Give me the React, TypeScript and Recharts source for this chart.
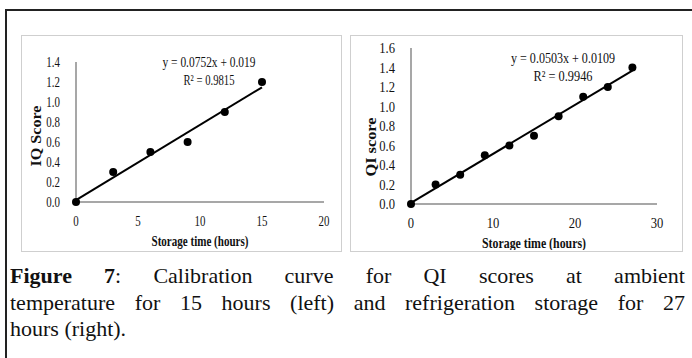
import { ScatterChart, Scatter, XAxis, YAxis } from "recharts";

// ambient (left) panel
const ambientHours = [0, 3, 6, 9, 12, 15];
const ambientScore = [0, 0.3, 0.5, 0.6, 0.9, 1.2];
const ambientTrendX = [0, 15];
const ambientTrendY = [0.019, 1.147];
const ambientXTicks = [0, 5, 10, 15, 20];
const ambientYTicks = [0, 0.2, 0.4, 0.6, 0.8, 1.0, 1.2, 1.4];

// refrigeration (right) panel
const fridgeHours = [0, 3, 6, 9, 12, 15, 18, 21, 24, 27];
const fridgeScore = [0, 0.2, 0.3, 0.5, 0.6, 0.7, 0.9, 1.1, 1.2, 1.4];
const fridgeTrendX = [0, 27];
const fridgeTrendY = [0.0109, 1.369];
const fridgeXTicks = [0, 10, 20, 30];
const fridgeYTicks = [0, 0.2, 0.4, 0.6, 0.8, 1.0, 1.2, 1.4, 1.6];

const font = "'Liberation Serif', 'Times New Roman', serif";

const toPoints = (xs: number[], ys: number[]) => xs.map((x, i) => ({ x, y: ys[i] }));

const dot = (p: any) => <circle cx={p.cx} cy={p.cy} r={4} fill="#000" />;
const noDot = () => <g />;

// narrow serif tick, the source figure uses a condensed face
const tick = (sx: number, axis: "x" | "y") => (p: any) => {
  const label = axis === "y" ? Number(p.payload.value).toFixed(1) : String(p.payload.value);
  return (
    <g transform={`translate(${p.x}, ${p.y}) scale(${sx}, 1)`}>
      <text x={0} y={0} textAnchor={axis === "y" ? "end" : "middle"} dy={axis === "y" ? 5 : 12}
        fontFamily={font} fontSize={14} fill="#111">{label}</text>
    </g>
  );
};

const yTitle = (text: string, len: number, dx: number, dy: number) => (p: any) => {
  const vb = p.viewBox;
  const x = vb.x + vb.width - dx;
  const y = vb.y + vb.height / 2 + dy;
  return (
    <text x={x} y={y} transform={`rotate(-90, ${x}, ${y})`} textAnchor="middle" dominantBaseline="central"
      textLength={len} lengthAdjust="spacingAndGlyphs"
      fontFamily={font} fontWeight="bold" fontSize={14} fill="#111">{text}</text>
  );
};

const xTitle = (text: string, len: number, dy: number) => (p: any) => {
  const vb = p.viewBox;
  return (
    <text x={vb.x + vb.width / 2} y={vb.y + dy} textAnchor="middle" dominantBaseline="central"
      textLength={len} lengthAdjust="spacingAndGlyphs"
      fontFamily={font} fontWeight="bold" fontSize={14} fill="#111">{text}</text>
  );
};

type PanelProps = {
  left: number;
  width: number;
  margin: { top: number; right: number; bottom: number; left: number };
  points: { x: number; y: number }[];
  trend: { x: number; y: number }[];
  xTicks: number[];
  yTicks: number[];
  yLabel: string;
  yLabelLen: number;
  yLabelDy: number;
  xLabelLen: number;
  tickScale: number;
  eq: string;
  r2: string;
  eqX: number;
  eqY: number;
  eqLen: number;
  r2Len: number;
};

const Panel = (p: PanelProps) => (
  <div style={{ position: "absolute", left: p.left, top: 35, width: p.width, height: 217, border: "1.5px solid #cfcfcf", boxSizing: "border-box", background: "#fff" }}>
    <ScatterChart width={p.width - 3} height={214} margin={p.margin}>
      <XAxis type="number" dataKey="x" domain={[p.xTicks[0], p.xTicks[p.xTicks.length - 1]]} ticks={p.xTicks} interval={0}
        tick={tick(p.tickScale, "x")} tickLine={false} tickMargin={6} stroke="#8a8a8a" strokeWidth={1.5} height={30}
        label={{ content: xTitle("Storage time (hours)", p.xLabelLen, 39) }} />
      <YAxis type="number" dataKey="y" domain={[p.yTicks[0], p.yTicks[p.yTicks.length - 1]]} ticks={p.yTicks} interval={0}
        tick={tick(p.tickScale, "y")} tickLine={false} tickMargin={10} width={45} stroke="#8a8a8a" strokeWidth={1.5}
        label={{ content: yTitle(p.yLabel, p.yLabelLen, 40, p.yLabelDy) }} />
      <Scatter data={p.trend} shape={noDot} line={{ stroke: "#000", strokeWidth: 2 }} isAnimationActive={false} />
      <Scatter data={p.points} shape={dot} isAnimationActive={false} />
      <text x={p.eqX} y={p.eqY} textAnchor="middle" textLength={p.eqLen} lengthAdjust="spacingAndGlyphs"
        fontFamily={font} fontSize={14} fill="#111">{p.eq}</text>
      <text x={p.eqX} y={p.eqY + 18} textAnchor="middle" textLength={p.r2Len} lengthAdjust="spacingAndGlyphs"
        fontFamily={font} fontSize={14} fill="#111">{p.r2}</text>
    </ScatterChart>
  </div>
);

export default function App() {
  return (
    <div style={{ position: "fixed", left: 0, top: 0, width: 692, height: 358, background: "#fff", overflow: "hidden" }}>
      <div style={{ position: "absolute", left: 5, top: 9, width: 700, height: 2, background: "#222" }} />
      <div style={{ position: "absolute", left: 5, top: 9, width: 2, height: 360, background: "#222" }} />
      <Panel left={21} width={321} margin={{ top: 26, right: 16, bottom: 18, left: 9 }}
        points={toPoints(ambientHours, ambientScore)} trend={toPoints(ambientTrendX, ambientTrendY)}
        xTicks={ambientXTicks} yTicks={ambientYTicks} yLabel="IQ Score" yLabelLen={61} yLabelDy={4}
        xLabelLen={97} tickScale={0.78}
        eq="y = 0.0752x + 0.019" r2="R² = 0.9815" eqX={187} eqY={31} eqLen={93} r2Len={51} />
      <Panel left={350} width={333} margin={{ top: 12, right: 24, bottom: 16, left: 15 }}
        points={toPoints(fridgeHours, fridgeScore)} trend={toPoints(fridgeTrendX, fridgeTrendY)}
        xTicks={fridgeXTicks} yTicks={fridgeYTicks} yLabel="QI score" yLabelLen={59} yLabelDy={21}
        xLabelLen={104} tickScale={0.9}
        eq="y = 0.0503x + 0.0109" r2="R² = 0.9946" eqX={212} eqY={27} eqLen={104} r2Len={59} />
      <div style={{ position: "absolute", left: 10, top: 263, width: 675, fontFamily: font, fontSize: 22, lineHeight: "26.5px", color: "#111" }}>
        <div style={{ textAlign: "justify", textAlignLast: "justify" }}><b>Figure 7</b>: Calibration curve for QI scores at ambient</div>
        <div style={{ textAlign: "justify", textAlignLast: "justify" }}>temperature for 15 hours (left) and refrigeration storage for 27</div>
        <div>hours (right).</div>
      </div>
    </div>
  );
}
